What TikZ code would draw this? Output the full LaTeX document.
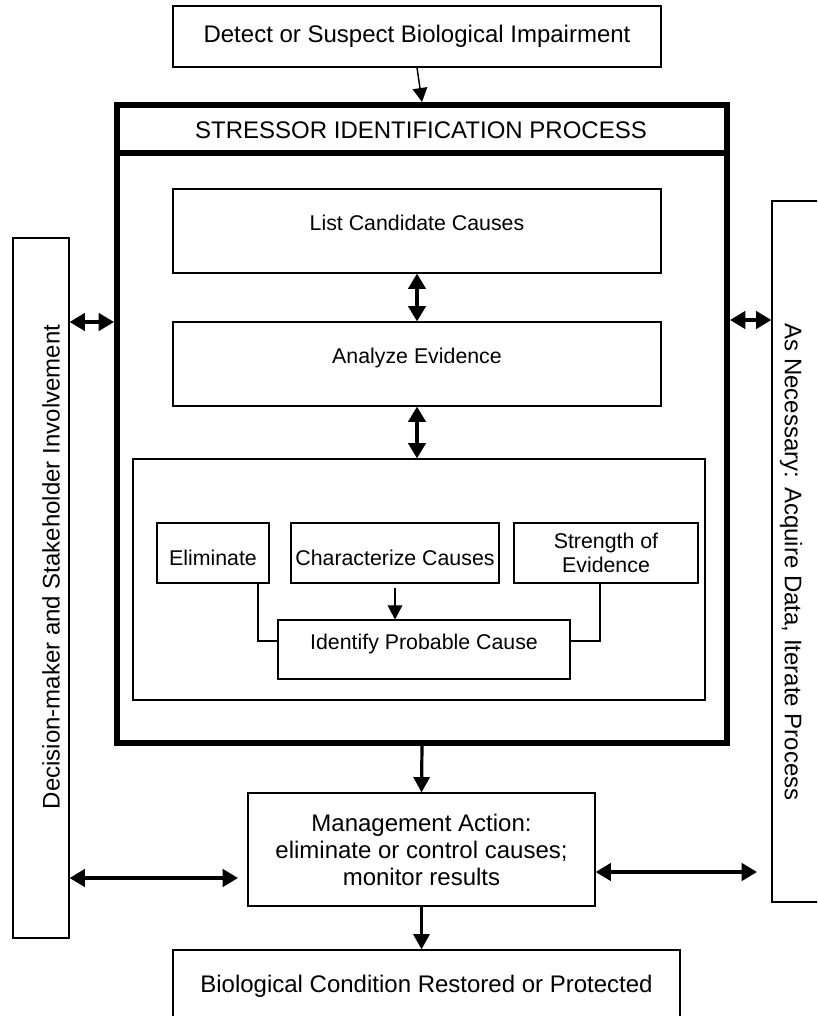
\documentclass[tikz,border=0pt]{standalone}
\usepackage{fontspec}
\setmainfont{Liberation Sans}
\usetikzlibrary{arrows.meta,calc}

\tikzset{every picture/.style={line width=0.9pt}}
\tikzset{
  endbox/.style={draw, line width=0.9pt, inner sep=0pt, align=center, font=\fontsize{18}{20.25}\selectfont},
  procbox/.style={draw, line width=0.9pt, inner sep=0pt, align=center, font=\fontsize{16}{18}\selectfont},
  sidetext/.style={inner sep=0pt, font=\fontsize{18}{20.25}\selectfont},
  textup/.style={text height=11.5pt, text depth=12pt},
  textdown/.style={text height=19pt, text depth=0pt},
  heavy/.style={line width=4.5pt},
  arrfwd/.style={-{Triangle[length=10.5pt,width=11pt]}},
  arrboth/.style={line width=2.6pt, {Triangle[length=11.5pt,width=13pt]}-{Triangle[length=11.5pt,width=13pt]}},
}

\begin{document}
\begin{tikzpicture}[x=0.75pt,y=0.75pt,yscale=-1,xscale=1]
\path[use as bounding box] (0,0) rectangle (817,1016);
\clip (0,0) rectangle (817,1016);
%Shape: Rectangle [detect]
\node[endbox, minimum width=366pt, minimum height=45.75pt] (detect) at (417,36.5) {Detect or Suspect Biological Impairment};
%Shape: Rectangle [stressor identification frame]
\node[draw, heavy, minimum width=457.5pt, minimum height=478.5pt] (sip) at (422,424) {};
\draw[heavy] (sip.west |- 0,153) -- (sip.east |- 0,153);
% Text Node
\node[sidetext] (hdr) at (421,130) {STRESSOR IDENTIFICATION PROCESS};
%Shape: Rectangle [list, analyze]
\node[procbox, textup, minimum width=366pt, minimum height=63pt] (list) at (417,231) {List Candidate Causes};
\node[procbox, textup, minimum width=366pt, minimum height=63pt] (analyze) at (417,364) {Analyze Evidence};
%Shape: Rectangle [inner frame]
\node[procbox, minimum width=429pt, minimum height=180.75pt] (inner) at (419,579.5) {};
\node[procbox, textdown, minimum width=84pt, minimum height=45pt] (elim) at (213,553) {Eliminate};
\node[procbox, textdown, minimum width=156pt, minimum height=45pt] (char) at (395,553) {Characterize Causes};
\node[procbox, minimum width=138pt, minimum height=45pt] (strength) at (606,553) {Strength of\\Evidence};
\node[procbox, textup, minimum width=219pt, minimum height=44.25pt] (ident) at (424,649.5) {Identify Probable Cause};
%Shape: Rectangle [management, restored]
\node[endbox, minimum width=260.25pt, minimum height=84.75pt] (mgmt) at (421.5,849.5) {Management Action:\\eliminate or control causes;\\monitor results};
\node[endbox, minimum width=380.25pt, minimum height=54pt] (restored) at (426.5,986) {Biological Condition Restored or Protected};
%Shape: Rectangle [side columns]
\node[endbox, minimum width=42pt, minimum height=525pt] (dmbox) at (41,588) {};
\node[sidetext, rotate=90] (dmtext) at (51,567) {Decision-maker and Stakeholder Involvement};
\node[endbox, minimum width=47.25pt, minimum height=525.75pt] (acqbox) at (803.5,551.5) {};
\node[sidetext, rotate=-90] (acqtext) at (791,562) {As Necessary: Acquire Data, Iterate Process};
%Straight Lines
\draw[arrfwd, line width=1.1pt] (detect.south) -- (sip.north);
\draw[arrboth] (list.south) -- (analyze.north);
\draw[arrboth] (analyze.south) -- (analyze.south |- inner.north);
\draw[arrfwd, line width=0.8pt, shorten <=3pt] (char.south) -- (char.south |- ident.north);
\draw[line width=1.3pt] ($(elim.south)+(45,0)$) |- ($(ident.west)+(0,-8.5)$);
\draw[line width=1.3pt] ($(strength.south)+(-6,0)$) |- ($(ident.east)+(0,-8.5)$);
\draw[arrboth] (dmbox.east |- 0,322) -- (sip.west |- 0,322);
\draw[arrboth] (sip.east |- 0,320) -- (acqbox.west |- 0,320);
\draw[-{Triangle[length=11.5pt,width=12pt]}, line width=2.4pt] (sip.south) -- (mgmt.north);
\draw[-{Triangle[length=11.5pt,width=12pt]}, line width=2.4pt] (mgmt.south) -- (mgmt.south |- restored.north);
\coordinate (lend) at (238,878);
\coordinate (rend) at (757,872);
\draw[arrboth] (dmbox.east |- lend) -- (lend);
\draw[arrboth] (mgmt.east |- rend) -- (rend);
\end{tikzpicture}
\end{document}
